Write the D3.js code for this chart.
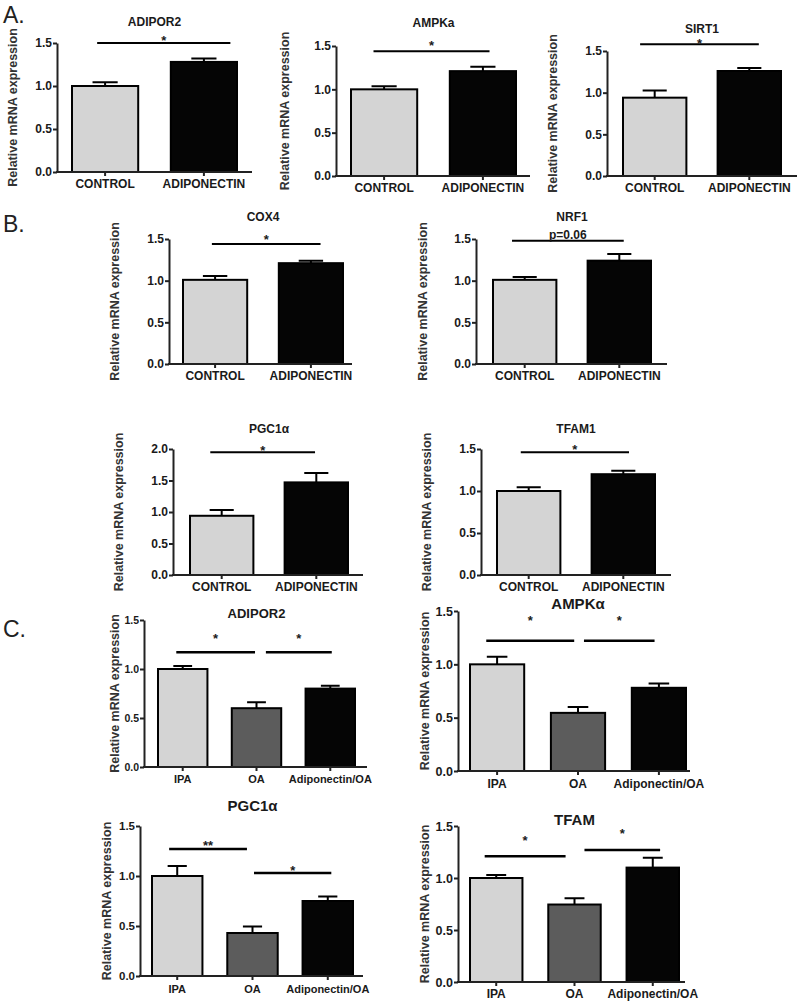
<!DOCTYPE html>
<html>
<head>
<meta charset="utf-8">
<script src="https://cdn.jsdelivr.net/npm/d3@7"></script>
<style>
  body { margin: 0; background: #fff; }
  svg { display: block; }
  text { font-family: 'Liberation Sans', Arial, sans-serif; fill: #1a1a1a; }
</style>
</head>
<body>
<div id="chart"></div>
<script>
// groups
const groupsAB = ['CONTROL', 'ADIPONECTIN'];
const groupsC = ['IPA', 'OA', 'Adiponectin/OA'];

// ticks
const ticks15 = [0, 0.5, 1.0, 1.5];
const ticks20 = [0, 0.5, 1.0, 1.5, 2.0];

// panel A
const adipor2AMean = [1.00, 1.28];
const adipor2ASem = [0.045, 0.04];
const adipor2ASig = [1.50];
const ampkAMean = [1.00, 1.21];
const ampkASem = [0.035, 0.05];
const ampkASig = [1.44];
const sirt1Mean = [0.94, 1.26];
const sirt1Sem = [0.085, 0.035];
const sirt1Sig = [1.58];

// panel B
const cox4Mean = [1.01, 1.21];
const cox4Sem = [0.045, 0.03];
const cox4Sig = [1.44];
const nrf1Mean = [1.01, 1.24];
const nrf1Sem = [0.035, 0.08];
const nrf1Sig = [1.48];
const pgc1aBMean = [0.94, 1.47];
const pgc1aBSem = [0.09, 0.15];
const pgc1aBSig = [1.95];
const tfam1Mean = [1.00, 1.20];
const tfam1Sem = [0.045, 0.04];
const tfam1Sig = [1.46];

// panel C
const adipor2CMean = [1.00, 0.60, 0.80];
const adipor2CSem = [0.03, 0.06, 0.03];
const adipor2CSig = [1.17, 1.17];
const ampkCMean = [1.00, 0.545, 0.78];
const ampkCSem = [0.07, 0.055, 0.04];
const ampkCSig = [1.22, 1.22];
const pgc1aCMean = [1.00, 0.43, 0.75];
const pgc1aCSem = [0.10, 0.065, 0.045];
const pgc1aCSig = [1.27, 1.03];
const tfamCMean = [1.00, 0.745, 1.10];
const tfamCSem = [0.03, 0.06, 0.095];
const tfamCSig = [1.21, 1.27];

const starOne = ['*'];
const starTwo = ['*', '*'];
const starPgcC = ['**', '*'];
const nrf1Text = ['p=0.06'];

const colorsAB = ['#d4d4d4', '#050505'];
const colorsC = ['#d4d4d4', '#5c5c5c', '#050505'];
const fontFamily = "'Liberation Sans', Arial, sans-serif";

const svg = d3.select('#chart')
  .append('svg')
  .attr('width', 800)
  .attr('height', 1001);

// panel letters
[['A.', 3, 23], ['B.', 3, 232], ['C.', 3, 637]].forEach((l) => {
  svg.append('text')
    .attr('x', l[1])
    .attr('y', l[2])
    .text(l[0])
    .style('font-size', '23px')
    .style('fill', '#222');
});

const panels = [
  { title: 'ADIPOR2', groups: groupsAB, mean: adipor2AMean, sem: adipor2ASem, yMax: 1.5, ticks: ticks15,
    sig: adipor2ASig, sigText: starOne, pairs: [[0, 1]], sigF: [[0.38, 0.9]], sigDy: [2],
    left: 57, right: 252, barL: 72, barR: 237, top: 43, bottom: 172, titleY: 26, ylabX: 13,
    fs: 12, titleFs: 12, tickFs: 12, colors: colorsAB, pad: 3.5 },
  { title: 'AMPKa', groups: groupsAB, mean: ampkAMean, sem: ampkASem, yMax: 1.5, ticks: ticks15,
    sig: ampkASig, sigText: starOne, pairs: [[0, 1]], sigF: [[0.34, 0.6]], sigDy: [-1],
    left: 336, right: 530, barL: 351, barR: 516, top: 46, bottom: 176, titleY: 27, ylabX: 285,
    fs: 12, titleFs: 12, tickFs: 12, colors: colorsAB, pad: 3.5 },
  { title: 'SIRT1', groups: groupsAB, mean: sirt1Mean, sem: sirt1Sem, yMax: 1.5, ticks: ticks15,
    sig: sirt1Sig, sigText: starOne, pairs: [[0, 1]], sigF: [[0.27, 0.65]], sigDy: [3.5],
    left: 607, right: 797, barL: 623, barR: 781, top: 51, bottom: 176, titleY: 33, ylabX: 553,
    fs: 12, titleFs: 12, tickFs: 12, colors: colorsAB, pad: 3.5 },
  { title: 'COX4', groups: groupsAB, mean: cox4Mean, sem: cox4Sem, yMax: 1.5, ticks: ticks15,
    sig: cox4Sig, sigText: starOne, pairs: [[0, 1]], sigF: [[0.45, 0.65]], sigDy: [0],
    left: 169, right: 352, barL: 183, barR: 343, top: 239, bottom: 364, titleY: 221, ylabX: 115,
    fs: 12, titleFs: 12, tickFs: 12, colors: colorsAB, pad: 3.5 },
  { title: 'NRF1', groups: groupsAB, mean: nrf1Mean, sem: nrf1Sem, yMax: 1.5, ticks: ticks15,
    sig: nrf1Sig, sigText: nrf1Text, pairs: [[0, 1]], sigF: [[0.3, 0.57]], sigDy: [-2],
    left: 476, right: 667, barL: 493, barR: 651, top: 239, bottom: 364, titleY: 221, ylabX: 423,
    fs: 12, titleFs: 12, tickFs: 12, colors: colorsAB, pad: 3.5 },
  { title: 'PGC1\u03b1', groups: groupsAB, mean: pgc1aBMean, sem: pgc1aBSem, yMax: 2.0, ticks: ticks20,
    sig: pgc1aBSig, sigText: starOne, pairs: [[0, 1]], sigF: [[0.32, 0.48]], sigDy: [2.5],
    left: 173, right: 363, barL: 190, barR: 348, top: 449, bottom: 575, titleY: 433, ylabX: 119,
    fs: 12, titleFs: 12, tickFs: 12, colors: colorsAB, pad: 3.5 },
  { title: 'TFAM1', groups: groupsAB, mean: tfam1Mean, sem: tfam1Sem, yMax: 1.5, ticks: ticks15,
    sig: tfam1Sig, sigText: starOne, pairs: [[0, 1]], sigF: [[0.375, 0.59]], sigDy: [1.5],
    left: 481, right: 671, barL: 497, barR: 655, top: 449, bottom: 575, titleY: 433, ylabX: 427,
    fs: 12, titleFs: 12, tickFs: 12, colors: colorsAB, pad: 3.5 },
  { title: 'ADIPOR2', groups: groupsC, mean: adipor2CMean, sem: adipor2CSem, yMax: 1.5, ticks: ticks15,
    sig: adipor2CSig, sigText: starTwo, pairs: [[0, 1], [1, 2]], sigF: [[0.37, 0.47], [0.69, 0.53]], sigDy: [-9, -9],
    left: 144, right: 367, barL: 158, barR: 355, top: 620, bottom: 767, titleY: 618, ylabX: 115,
    fs: 11, titleFs: 13, tickFs: 10.5, colors: colorsC, pad: 4 },
  { title: 'AMPK\u03b1', groups: groupsC, mean: ampkCMean, sem: ampkCSem, yMax: 1.5, ticks: ticks15,
    sig: ampkCSig, sigText: starTwo, pairs: [[0, 1], [1, 2]], sigF: [[0.3, 0.43], [0.61, 0.42]], sigDy: [-16, -16],
    left: 458, right: 690, barL: 470, barR: 686, top: 611, bottom: 771, titleY: 609, ylabX: 425,
    fs: 12, titleFs: 15, tickFs: 12.5, colors: colorsC, pad: 4 },
  { title: 'PGC1\u03b1', groups: groupsC, mean: pgc1aCMean, sem: pgc1aCSem, yMax: 1.5, ticks: ticks15,
    sig: pgc1aCSig, sigText: starPgcC, pairs: [[0, 1], [1, 2]], sigF: [[0.34, 0.39], [0.53, 0.57]], sigDy: [1, 2],
    left: 140, right: 363, barL: 152, barR: 353, top: 826, bottom: 976, titleY: 811, ylabX: 107,
    fs: 11, titleFs: 15, tickFs: 11.5, colors: colorsC, pad: 5.5 },
  { title: 'TFAM', groups: groupsC, mean: tfamCMean, sem: tfamCSem, yMax: 1.5, ticks: ticks15,
    sig: tfamCSig, sigText: starTwo, pairs: [[0, 1], [1, 2]], sigF: [[0.28, 0.33], [0.69, 0.64]], sigDy: [-11, -12],
    left: 458, right: 685, barL: 470, barR: 679, top: 826, bottom: 982, titleY: 825, ylabX: 425,
    fs: 12, titleFs: 15, tickFs: 12.5, colors: colorsC, pad: 3.5 }
];

function drawPanel(p) {
  const g = svg.append('g');

  const x = d3.scaleBand()
    .domain(p.groups)
    .range([p.barL, p.barR])
    .paddingInner(0.33)
    .paddingOuter(0);
  const y = d3.scaleLinear()
    .domain([0, p.yMax])
    .range([p.bottom, p.top]);
  const bw = x.bandwidth();

  // Error bars (upper whisker only)
  g.selectAll('.whisker')
    .data(p.mean)
    .enter()
    .append('path')
    .attr('class', 'whisker')
    .attr('d', (d, i) => {
      const cx = x(p.groups[i]) + bw / 2;
      const cap = bw * 0.19;
      const yt = y(d + p.sem[i]);
      return 'M' + cx + ',' + y(d) + 'V' + yt + 'M' + (cx - cap) + ',' + yt + 'H' + (cx + cap);
    })
    .attr('stroke', '#000')
    .attr('stroke-width', 2)
    .attr('fill', 'none');

  // Bars
  g.selectAll('.bar')
    .data(p.mean)
    .enter()
    .append('rect')
    .attr('class', 'bar')
    .attr('x', (d, i) => x(p.groups[i]))
    .attr('y', (d) => y(d))
    .attr('width', bw)
    .attr('height', (d) => y(0) - y(d))
    .attr('fill', (d, i) => p.colors[i])
    .attr('stroke', '#000')
    .attr('stroke-width', 2);

  // y-axis
  const yAxis = g.append('g')
    .attr('transform', 'translate(' + p.left + ',0)')
    .call(d3.axisLeft(y).tickValues(p.ticks).tickFormat(d3.format('.1f'))
      .tickSize(4).tickSizeOuter(0).tickPadding(1));

  // x-axis
  const xAxis = g.append('g')
    .attr('transform', 'translate(0,' + p.bottom + ')')
    .call(d3.axisBottom(x).tickSize(4).tickSizeOuter(0).tickPadding(p.pad));
  xAxis.select('.domain').remove();
  g.append('line')
    .attr('x1', p.left - 1)
    .attr('x2', p.right)
    .attr('y1', p.bottom)
    .attr('y2', p.bottom)
    .attr('stroke', '#222')
    .attr('stroke-width', 2);

  [yAxis, xAxis].forEach((a) => {
    a.selectAll('path, line').attr('stroke', '#222').attr('stroke-width', 2);
    a.selectAll('text')
      .style('font-family', fontFamily)
      .style('font-weight', 'bold')
      .style('fill', '#1a1a1a');
  });
  yAxis.selectAll('text').style('font-size', p.tickFs + 'px');
  xAxis.selectAll('text').style('font-size', p.fs + 'px');

  // Title
  g.append('text')
    .attr('x', (p.barL + p.barR) / 2)
    .attr('y', p.titleY)
    .attr('text-anchor', 'middle')
    .text(p.title)
    .style('font-size', p.titleFs + 'px')
    .style('font-weight', 'bold');

  // y-axis label
  g.append('text')
    .attr('transform', 'translate(' + p.ylabX + ',' + ((p.top + p.bottom) / 2) + ') rotate(-90)')
    .attr('text-anchor', 'middle')
    .attr('dy', '0.35em')
    .text('Relative mRNA expression')
    .style('font-size', '12.5px')
    .style('font-weight', 'bold')
    .style('fill', '#333');

  // Significance lines
  p.pairs.forEach((pair, k) => {
    const x1 = x(p.groups[pair[0]]) + bw * p.sigF[k][0];
    const x2 = x(p.groups[pair[1]]) + bw * p.sigF[k][1];
    const ys = y(p.sig[k]);
    g.append('line')
      .attr('x1', x1)
      .attr('x2', x2)
      .attr('y1', ys)
      .attr('y2', ys)
      .attr('stroke', '#000')
      .attr('stroke-width', p.groups.length === 3 ? 2.5 : 2);
    g.append('text')
      .attr('x', (x1 + x2) / 2)
      .attr('y', ys + p.sigDy[k])
      .attr('text-anchor', 'middle')
      .text(p.sigText[k])
      .style('font-size', p.sigText[k].length > 2 ? '12px' : '13px')
      .style('font-weight', 'bold');
  });
}

panels.forEach(drawPanel);
</script>
</body>
</html>
